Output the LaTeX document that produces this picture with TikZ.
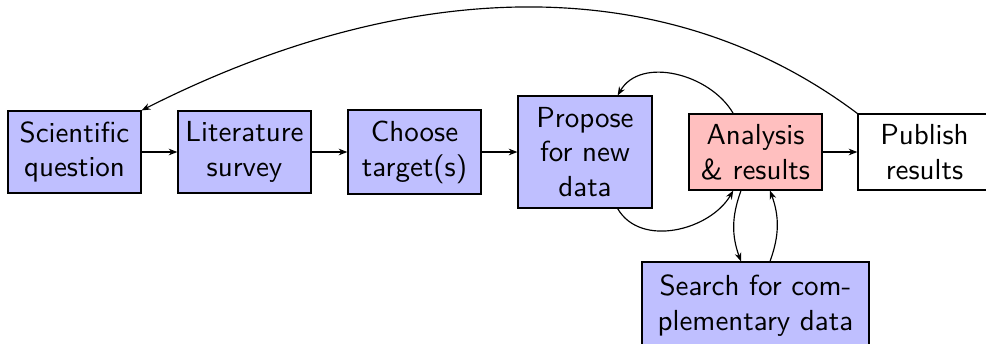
\documentclass[tikz,border=0pt]{standalone}
\usetikzlibrary{arrows.meta}
\begin{document}
\begin{tikzpicture}[x=0.3448pt,y=0.3448pt,font=\sffamily,
  box/.style={draw, inner sep=0pt, align=center, minimum width=45.9pt, minimum height=28.3pt},
  bluebox/.style={box, fill=blue!25},
  redbox/.style={box, fill=red!25},
  whitebox/.style={box, fill=white},
  arr/.style={-{Stealth[length=3pt,width=2.3pt]}}]
\useasboundingbox (0,0) rectangle (986,343);
\node[bluebox] (sci) at (74.5,191) {Scientific\\question};
\node[bluebox] (lit) at (244.5,191) {Literature\\survey};
\node[bluebox, minimum height=29pt] (cho) at (414.5,191) {Choose\\target(s)};
\node[bluebox, minimum width=46.2pt, minimum height=38.6pt] (prop) at (585,191) {Propose\\for new\\data};
\node[redbox, minimum height=26.2pt] (ana) at (755.5,191) {Analysis\\\& results};
\node[whitebox, minimum height=26.2pt] (pub) at (924.5,191) {Publish\\results};
\node[bluebox, minimum width=78.3pt, minimum height=30pt] (srch) at (755.5,37.5) {Search for com-\\plementary data};
\draw[arr] (sci) -- (lit);
\draw[arr] (lit) -- (cho);
\draw[arr] (cho) -- (prop);
\draw[arr] (ana) -- (pub);
\draw[arr] (pub.north west) .. controls +(-200,150) and +(255,129) .. (sci.north east);
\draw[arr] (ana) to[out=120,in=60] (prop);
\draw[arr] (prop) to[out=-60,in=-120] (ana);
\draw[arr] ([xshift=-5pt]ana.south) to[bend right=20] ([xshift=-5pt]srch.north);
\draw[arr] ([xshift=5pt]srch.north) to[bend right=20] ([xshift=5pt]ana.south);
\end{tikzpicture}
\end{document}
